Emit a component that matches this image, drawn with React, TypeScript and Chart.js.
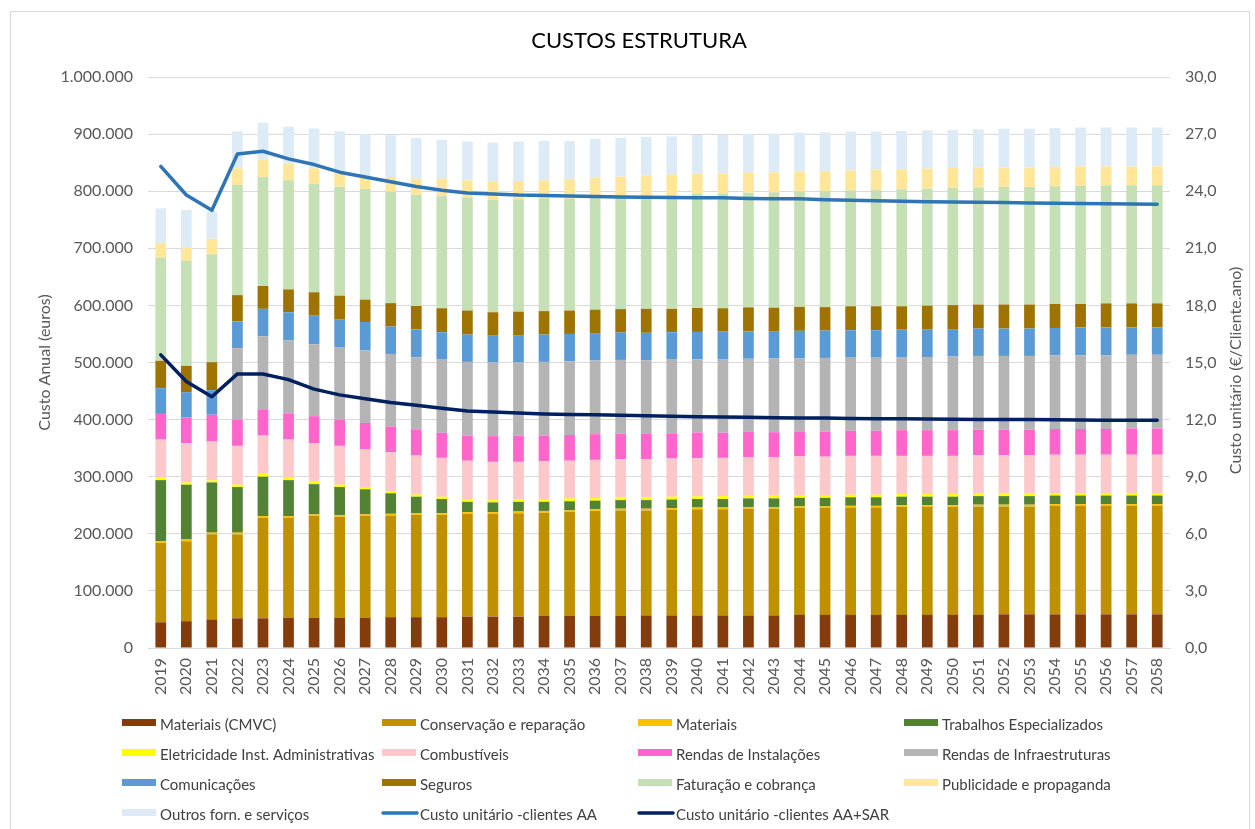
import React, { useEffect, useRef } from "react";
import { Chart, registerables } from "chart.js";

Chart.register(...registerables);

const years = [
  "2019", "2020", "2021", "2022", "2023", "2024", "2025", "2026", "2027", "2028",
  "2029", "2030", "2031", "2032", "2033", "2034", "2035", "2036", "2037", "2038",
  "2039", "2040", "2041", "2042", "2043", "2044", "2045", "2046", "2047", "2048",
  "2049", "2050", "2051", "2052", "2053", "2054", "2055", "2056", "2057", "2058",
];

const materiaisCMVC = [
  45000, 47000, 50000, 52000, 52000, 53000, 53000, 53000, 53000, 54000,
  54000, 54000, 55000, 55000, 55000, 56000, 56000, 56000, 56000, 57000,
  57000, 57000, 57000, 57000, 57000, 58000, 58000, 58000, 58000, 58000,
  58000, 58000, 58000, 59000, 59000, 59000, 59000, 59000, 59000, 59000,
];
const conservacao = [
  139000, 140000, 149000, 147000, 176000, 175000, 178000, 177000, 178000, 178000,
  179000, 179000, 180000, 180000, 181000, 181000, 182000, 184000, 185000, 184000,
  185000, 186000, 186000, 187000, 187000, 187000, 187000, 188000, 188000, 189000,
  189000, 189000, 190000, 189000, 189000, 190000, 190000, 190000, 190000, 190000,
];
const materiais = [
  3000, 3000, 3000, 3000, 3000, 3000, 3000, 3000, 3000, 3000,
  3000, 3000, 3000, 3000, 3000, 3000, 3000, 3000, 3000, 3000,
  3000, 3000, 3000, 3000, 3000, 3000, 3000, 3000, 3000, 3000,
  3000, 3000, 3000, 3000, 3000, 3000, 3000, 3000, 3000, 3000,
];
const trabalhos = [
  107000, 96000, 88000, 80000, 69000, 63000, 53000, 49000, 44000, 36000,
  29000, 25000, 18000, 17000, 17000, 16000, 16000, 15000, 15000, 15000,
  15000, 15000, 15000, 15000, 15000, 15000, 15000, 15000, 15000, 15000,
  15000, 15000, 15000, 15000, 15000, 15000, 15000, 15000, 15000, 15000,
];
const eletricidade = [
  5000, 4000, 3500, 4000, 5000, 4000, 4000, 4000, 4000, 4000,
  4000, 4000, 5000, 4000, 4000, 5000, 5000, 4500, 4500, 5000,
  5000, 4500, 5000, 4500, 5000, 4500, 5000, 4500, 4500, 4500,
  4500, 4500, 4500, 4500, 4500, 4500, 4500, 4500, 4500, 4500,
];
const combustiveis = [
  66000, 69000, 68000, 68000, 67000, 67000, 68000, 68000, 66000, 68000,
  68000, 68000, 67000, 67000, 66000, 66000, 66000, 67000, 67000, 67000,
  67000, 67000, 67000, 68000, 67000, 68000, 67000, 68000, 68000, 67000,
  67000, 67000, 67000, 67000, 67000, 67000, 67000, 67000, 67000, 67000,
];
const rendasInstalacoes = [
  45000, 45000, 47000, 46000, 46000, 46000, 47000, 46000, 46000, 45000,
  46000, 44000, 44000, 45000, 46000, 45000, 45000, 45000, 45000, 45000,
  44000, 45000, 44000, 44000, 44000, 44000, 44000, 44000, 44000, 45000,
  45000, 45000, 45000, 45000, 45000, 45000, 45000, 45000, 46000, 46000,
];
const rendasInfra = [
  0, 0, 0, 125000, 128000, 128000, 126000, 126000, 127000, 127000,
  126000, 128000, 129000, 129000, 128000, 129000, 129000, 129000, 129000, 128000,
  129000, 128000, 129000, 128000, 129000, 128000, 129000, 128000, 128000, 128000,
  128000, 129000, 129000, 129000, 129000, 129000, 129000, 129000, 129000, 129000,
];
const comunicacoes = [
  45000, 44000, 43000, 47000, 48000, 49000, 50000, 49000, 50000, 48000,
  49000, 48000, 48000, 48000, 48000, 48000, 48000, 48000, 48000, 48000,
  48000, 48000, 48000, 48000, 48000, 48000, 48000, 48000, 48000, 48000,
  48000, 48000, 48000, 48000, 48000, 48000, 49000, 49000, 48000, 48000,
];
const seguros = [
  48000, 46000, 49000, 46000, 40000, 40000, 41000, 42000, 39000, 41000,
  41000, 42000, 42000, 40000, 41000, 41000, 41000, 41000, 41000, 42000,
  41000, 42000, 41000, 42000, 41000, 42000, 41000, 42000, 42000, 41000,
  42000, 42000, 42000, 42000, 42000, 42000, 41000, 42000, 42000, 42000,
];
const faturacao = [
  181000, 184000, 189000, 193000, 191000, 191000, 190000, 191000, 194000, 195000,
  195000, 196000, 197000, 197000, 197000, 197000, 196000, 196000, 197000, 198000,
  199000, 200000, 201000, 201000, 202000, 202000, 203000, 203000, 204000, 205000,
  205000, 205000, 205000, 206000, 206000, 206000, 207000, 207000, 207000, 207000,
];
const publicidade = [
  25000, 24000, 27000, 29000, 31000, 29000, 27000, 24000, 24000, 26000,
  28000, 31000, 31000, 31000, 32000, 32000, 34000, 35000, 35000, 35000,
  36000, 35000, 35000, 35000, 35000, 35000, 35000, 35000, 35000, 35000,
  35000, 35000, 35000, 34000, 34000, 34000, 34000, 33000, 33000, 33000,
];
const outros = [
  61000, 65000, 48000, 65000, 64000, 65000, 70000, 73000, 72000, 73000,
  71000, 68000, 68000, 69000, 69000, 69000, 67000, 68000, 68000, 68000,
  67000, 68000, 68000, 68000, 68000, 68000, 68000, 68000, 67000, 67000,
  67000, 67000, 67000, 68000, 68000, 68000, 68000, 68000, 68000, 68000,
];

const custoAA = [
  25.3, 23.8, 23.0, 25.95, 26.1, 25.7, 25.4, 25.0, 24.75, 24.5,
  24.25, 24.05, 23.9, 23.85, 23.8, 23.78, 23.75, 23.72, 23.7, 23.68,
  23.67, 23.66, 23.65, 23.62, 23.6, 23.6, 23.55, 23.52, 23.5, 23.47,
  23.45, 23.43, 23.42, 23.4, 23.38, 23.37, 23.36, 23.34, 23.33, 23.32,
];
const custoAASAR = [
  15.4, 14.0, 13.2, 14.4, 14.4, 14.1, 13.6, 13.3, 13.1, 12.9,
  12.75, 12.6, 12.45, 12.4, 12.35, 12.3, 12.27, 12.25, 12.23, 12.2,
  12.18, 12.15, 12.14, 12.12, 12.1, 12.09, 12.08, 12.06, 12.05, 12.04,
  12.03, 12.02, 12.01, 12.0, 12.0, 11.99, 11.98, 11.97, 11.97, 11.96,
];

const barSeries = [
  { label: "Materiais (CMVC)", data: materiaisCMVC, color: "#843C0C" },
  { label: "Conservação e reparação", data: conservacao, color: "#BF9000" },
  { label: "Materiais", data: materiais, color: "#FFC000" },
  { label: "Trabalhos Especializados", data: trabalhos, color: "#548235" },
  { label: "Eletricidade Inst. Administrativas", data: eletricidade, color: "#FFFF00" },
  { label: "Combustíveis", data: combustiveis, color: "#FCC8CA" },
  { label: "Rendas de Instalações", data: rendasInstalacoes, color: "#FF66CC" },
  { label: "Rendas de Infraestruturas", data: rendasInfra, color: "#B4B4B4" },
  { label: "Comunicações", data: comunicacoes, color: "#5B9BD5" },
  { label: "Seguros", data: seguros, color: "#9E7300" },
  { label: "Faturação e cobrança", data: faturacao, color: "#C5E0B4" },
  { label: "Publicidade e propaganda", data: publicidade, color: "#FFE699" },
  { label: "Outros forn. e serviços", data: outros, color: "#DDEBF7" },
];
const lineSeries = [
  { label: "Custo unitário -clientes AA", data: custoAA, color: "#2E75B6" },
  { label: "Custo unitário -clientes AA+SAR", data: custoAASAR, color: "#002060" },
];

const FONT = "Lato, 'Open Sans', sans-serif";
const TICK_COLOR = "#595959";

const fmtEuro = (v: number) => String(Math.round(v)).replace(/\B(?=(\d{3})+(?!\d))/g, ".");
const fmtUnit = (v: number) => v.toFixed(1).replace(".", ",");

const decorPlugin = {
  id: "decor",
  beforeDraw(chart: any) {
    const ctx = chart.ctx;
    ctx.save();
    ctx.fillStyle = "#ffffff";
    ctx.fillRect(0, 0, chart.width, chart.height);
    ctx.strokeStyle = "#D9D9D9";
    ctx.lineWidth = 1;
    ctx.strokeRect(10.5, 11.5, chart.width - 16, chart.height + 10);
    ctx.restore();
  },
  afterDraw(chart: any) {
    const ctx = chart.ctx;
    const area = chart.chartArea;
    ctx.save();
    // title
    ctx.fillStyle = "#000000";
    ctx.font = `22px ${FONT}`;
    ctx.textAlign = "center";
    ctx.textBaseline = "middle";
    ctx.fillText("CUSTOS ESTRUTURA", 639, 41);

    // axis titles
    const midY = (area.top + area.bottom) / 2;
    ctx.fillStyle = TICK_COLOR;
    ctx.font = `16px ${FONT}`;
    ctx.save();
    ctx.translate(45, midY);
    ctx.rotate(-Math.PI / 2);
    ctx.fillText("Custo Anual (euros)", 0, 0);
    ctx.restore();
    ctx.save();
    ctx.translate(1236, midY + 8);
    ctx.rotate(-Math.PI / 2);
    ctx.fillText("Custo unitário (€/Cliente.ano)", 0, 0);
    ctx.restore();

    // legend
    const colX = [122, 382, 638, 904];
    const rowY = [724, 754, 784, 814];
    ctx.font = `15px ${FONT}`;
    ctx.textAlign = "left";
    ctx.textBaseline = "middle";
    chart.data.datasets.forEach((ds: any, i: number) => {
      const x = colX[i % 4];
      const y = rowY[Math.floor(i / 4)];
      if (ds.type === "line") {
        ctx.strokeStyle = ds.borderColor;
        ctx.lineWidth = 3.5;
        ctx.lineCap = "round";
        ctx.beginPath();
        ctx.moveTo(x + 1, y - 1);
        ctx.lineTo(x + 35, y - 1);
        ctx.stroke();
      } else {
        ctx.fillStyle = ds.backgroundColor;
        ctx.fillRect(x, y - 5, 34, 7);
      }
      ctx.fillStyle = "#404040";
      ctx.fillText(ds.label, x + 38, y + 1);
    });
    ctx.restore();
  },
};

export default function App() {
  const ref = useRef<HTMLCanvasElement | null>(null);

  useEffect(() => {
    if (!ref.current) return;
    const datasets: any[] = [
      ...barSeries.map((s) => ({
        type: "bar",
        label: s.label,
        data: s.data,
        backgroundColor: s.color,
        borderWidth: 0,
        yAxisID: "y",
        stack: "costs",
        order: 1,
        barPercentage: 0.42,
        categoryPercentage: 1,
      })),
      ...lineSeries.map((s) => ({
        type: "line",
        label: s.label,
        data: s.data,
        borderColor: s.color,
        backgroundColor: s.color,
        borderWidth: 3.5,
        borderCapStyle: "round",
        borderJoinStyle: "round",
        pointRadius: 0,
        tension: 0,
        yAxisID: "y1",
        order: 0,
      })),
    ];

    const chart = new Chart(ref.current, {
      type: "bar",
      data: { labels: years, datasets },
      options: {
        animation: false,
        responsive: false,
        devicePixelRatio: 1,
        layout: { padding: { top: 77, left: 0, right: 0, bottom: 121 } },
        plugins: {
          legend: { display: false },
          title: { display: false },
          tooltip: { enabled: false },
        },
        scales: {
          x: {
            stacked: true,
            offset: true,
            grid: { display: false, drawTicks: false },
            border: { display: true, color: "#D9D9D9" },
            ticks: {
              autoSkip: false,
              maxRotation: 90,
              minRotation: 90,
              padding: 10,
              color: TICK_COLOR,
              font: { family: FONT, size: 16 },
            },
            afterFit: (scale: any) => {
              scale.height = 60;
            },
          },
          y: {
            type: "linear",
            position: "left",
            stacked: true,
            min: 0,
            max: 1000000,
            grid: { color: "#D9D9D9", lineWidth: 1, drawTicks: false },
            border: { display: false },
            ticks: {
              stepSize: 100000,
              padding: 15,
              color: TICK_COLOR,
              font: { family: FONT, size: 16 },
              callback: (v: any) => fmtEuro(Number(v)),
            },
            afterFit: (scale: any) => {
              scale.width = 148;
            },
          },
          y1: {
            type: "linear",
            position: "right",
            stacked: false,
            min: 0,
            max: 30,
            grid: { display: false, drawTicks: false },
            border: { display: false },
            ticks: {
              stepSize: 3,
              padding: 15,
              color: TICK_COLOR,
              font: { family: FONT, size: 16 },
              callback: (v: any) => fmtUnit(Number(v)),
            },
            afterFit: (scale: any) => {
              scale.width = 85;
            },
          },
        },
      } as any,
      plugins: [decorPlugin],
    });
    return () => chart.destroy();
  }, []);

  return (
    <div style={{ position: "absolute", left: 0, top: 0, width: 1255, height: 829 }}>
      <canvas ref={ref} width={1255} height={829} style={{ display: "block" }} />
    </div>
  );
}
